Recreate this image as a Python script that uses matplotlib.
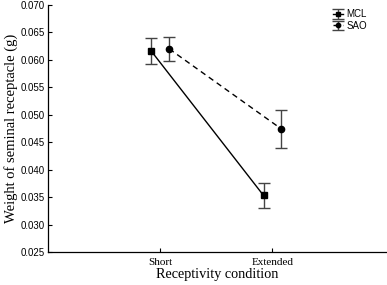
import matplotlib
matplotlib.use("Agg")
import matplotlib.pyplot as plt
import numpy as np

conditions = ["Short", "Extended"]
mcl_mean = [0.0616, 0.0353]
mcl_err = [0.0024, 0.0023]
sao_mean = [0.0620, 0.0474]
sao_err = [0.0022, 0.0035]
yticks = [0.025, 0.030, 0.035, 0.040, 0.045, 0.050, 0.055, 0.060, 0.065, 0.070]

fig = plt.figure(figsize=(3.87, 2.85), dpi=100)
ax = fig.add_axes([0.124, 0.1158, 0.876, 0.8667])

x = np.arange(len(conditions))
off = 0.08
ax.errorbar(x - off, mcl_mean, yerr=mcl_err, color="black", ecolor="#444444",
            elinewidth=1.0, capsize=4, capthick=1.0, marker="s", markersize=5,
            linestyle="-", linewidth=1.0, label="MCL")
ax.errorbar(x + off, sao_mean, yerr=sao_err, color="black", ecolor="#444444",
            elinewidth=1.0, capsize=4, capthick=1.0, marker="o", markersize=4.5,
            linestyle=(0, (4, 3)), linewidth=1.0, label="SAO")

ax.set_xlim(-1, 2.02)
ax.set_ylim(0.025, 0.070)
ax.set_yticks(yticks)
ax.set_yticklabels([f"{v:.3f}" for v in yticks], fontfamily="Liberation Sans", fontsize=7)
ax.set_xticks(x)
ax.set_xticklabels(conditions, fontfamily="Liberation Serif", fontsize=8)
ax.tick_params(direction="in", length=3, width=0.8, pad=2)
ax.tick_params(axis="x", pad=4)
for s in ["top", "right"]:
    ax.spines[s].set_visible(False)
for s in ["left", "bottom"]:
    ax.spines[s].set_linewidth(0.9)

ax.set_ylabel("Weight of seminal receptacle (g)", fontfamily="Liberation Serif", fontsize=10.5, labelpad=2)
ax.set_xlabel("Receptivity condition", fontfamily="Liberation Serif", fontsize=10.3, labelpad=1)

leg = ax.legend(loc="upper left", bbox_to_anchor=(0.82, 1.01), frameon=False,
                prop={"family": "Liberation Sans", "size": 7}, handlelength=1.0,
                handletextpad=0.4, labelspacing=0.15, borderpad=0.2, markerscale=0.7)

fig.savefig("out.png", dpi=100)
